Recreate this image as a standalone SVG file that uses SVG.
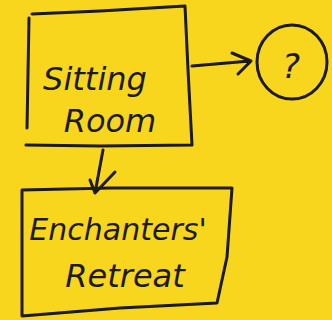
<svg xmlns="http://www.w3.org/2000/svg" width="332" height="320" viewBox="0 0 332 320">
<style>
.ln{fill:none;stroke:#1c1a14;stroke-width:3;stroke-linecap:round;stroke-linejoin:round}
.tx{font-family:"DejaVu Sans","Liberation Sans",sans-serif;font-style:italic;fill:#1c1a14;text-anchor:middle}
</style>
<rect width="332" height="320" fill="#F8D61E"/>
<g id="sitting-room">
<path class="ln" d="M32,14 L100,11 L185,6 L188,70 L192,145 L100,146 L26,145 M29,18 L27,128"/>
<text class="tx" x="95" y="90" font-size="32">Sitting</text>
<text class="tx" x="110" y="132" font-size="32">Room</text>
</g>
<g id="unknown">
<ellipse class="ln" cx="292" cy="62" rx="35" ry="37" stroke-width="2.5"/>
<text class="tx" x="291" y="78" font-size="34">?</text>
</g>
<g id="enchanters-retreat">
<path class="ln" d="M22,190 L110,188 L232,188 L227,257 L217,303 L120,308 L22,316 Z"/>
<text class="tx" x="118" y="240" font-size="30">Enchanters'</text>
<text class="tx" x="125" y="287" font-size="32">Retreat</text>
</g>
<g id="connectors">
<path class="ln" d="M192,66 L250,61 M232,53 L251,61 L238,74"/>
<path class="ln" d="M103,150 L95,193 M90,180 L95,193 L115,172"/>
</g>
</svg>
